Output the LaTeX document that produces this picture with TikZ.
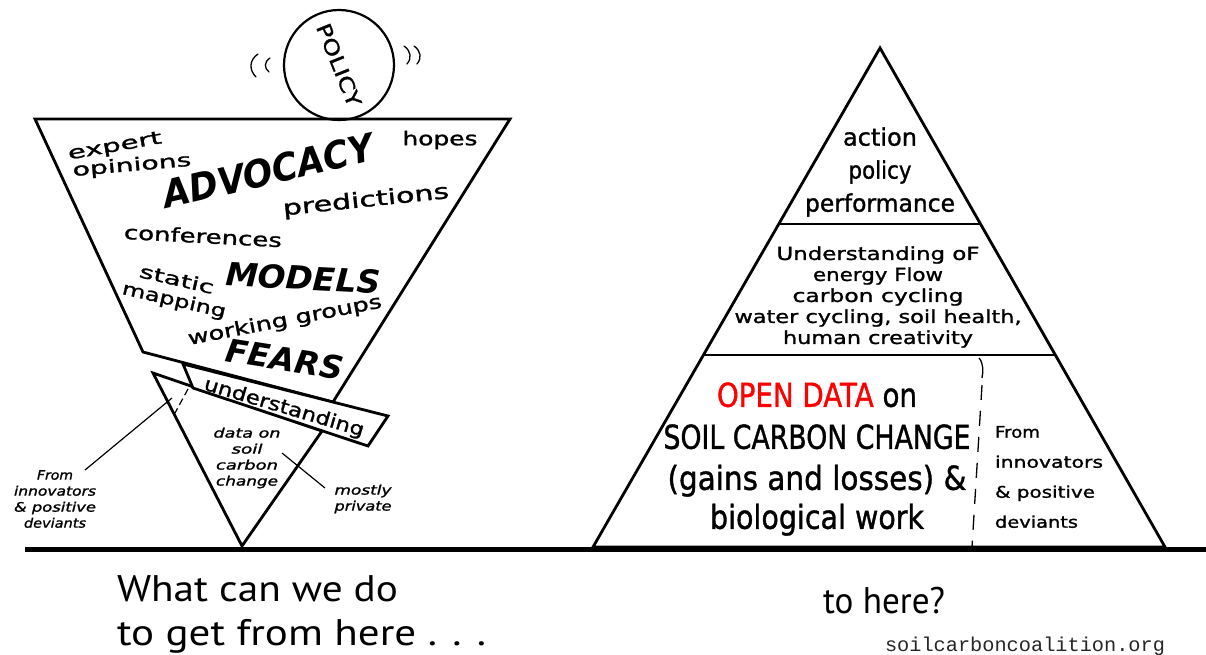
\documentclass[tikz,border=0pt]{standalone}
\usepackage{fontspec}
\usepackage{graphicx}
\setmainfont{DejaVu Sans}
\newfontfamily\comicfont[FakeBold=1.2]{DejaVu Sans}
\newfontfamily\heavyfont{DejaVu Sans}
\newfontfamily\plainsans{PT Sans}
\newfontfamily\webfont{Liberation Mono}
\usetikzlibrary{calc}
% font size in pt (one pt equals one unit of the picture)
\newcommand{\setfs}[1]{\fontsize{#1}{#1}\selectfont}
% set a word to a given width, keeping its natural height
\newcommand{\fw}[2]{\resizebox{#1pt}{\height}{#2}}
\begin{document}
\begin{tikzpicture}[x=1pt,y=-1pt,
  outline/.style={line width=2.8pt, line join=miter},
  word/.style={inner sep=0pt, outer sep=0pt},
  bigword/.style={inner sep=0pt, outer sep=0pt},
  leader/.style={line width=1.2pt},
  wobble/.style={line width=1.3pt, line cap=round},
  ground/.style={line width=5.5pt}]
\useasboundingbox (0,0) rectangle (1206,654);

% ---------- ground ----------
\coordinate (g1) at (25,549.5);
\coordinate (g2) at (1206,549.5);
\draw[ground] (g1) -- (g2);

% ---------- funnel (upside-down pyramid) ----------
\coordinate (f1) at (35,119);
\coordinate (f2) at (510,119);
\coordinate (f3) at (333,402);
\coordinate (f4) at (143,352);
\draw[outline] (f1) -- (f2) -- (f3) -- (f4) -- cycle;

% small triangle standing on its point
\coordinate (t1) at (153,373);
\coordinate (t2) at (242,546);
\coordinate (t3) at (322,431);
\draw[outline] (t1) -- (t2) -- (t3) -- cycle;

% the "understanding" plank
\coordinate (p1) at (183,364);
\coordinate (p2) at (388,416);
\coordinate (p3) at (368,446);
\coordinate (p4) at (193,388);
\draw[outline, fill=white] (p1) -- (p2) -- (p3) -- (p4) -- cycle;

% dashed split inside the small triangle
\coordinate (d1) at (188,389);
\coordinate (d2) at (175,413);
\draw[line width=1.2pt, dash pattern=on 7pt off 4pt] (d1) -- (d2);

% ---------- POLICY ball ----------
\node[circle, draw, line width=2.2pt, minimum size=110pt, inner sep=0pt] (ball) at (339,65) {};
\node[word, rotate=-68, font={\comicfont\setfs{20}}] (policy) at (339,65) {\fw{88}{POLICY}};
\draw[wobble] (258,54) .. controls (249,60) and (249,70) .. (256,77);
\draw[wobble] (270,58) .. controls (264,62) and (264,68) .. (269,72);
\draw[wobble] (404,46) .. controls (411,51) and (412,58) .. (407,64);
\draw[wobble] (414,46) .. controls (421,51) and (422,58) .. (417,64);

% ---------- words in the funnel ----------
\node[word, rotate=10, font={\comicfont\setfs{18}}] (expert) at (115,147) {\fw{95}{expert}};
\node[word, rotate=5, font={\comicfont\setfs{18}}] (opinions) at (132,166) {\fw{119}{opinions}};
\node[bigword, rotate=13, font={\heavyfont\bfseries\itshape\setfs{38}}] (advocacy) at (268,171) {\fw{215}{ADVOCACY}};
\node[word, font={\comicfont\setfs{19}}] (hopes) at (440,140) {\fw{75}{hopes}};
\node[word, rotate=6, font={\comicfont\setfs{21}}] (predictions) at (366,201) {\fw{167}{predictions}};
\node[word, rotate=-3, font={\comicfont\setfs{19}}] (conferences) at (203,236) {\fw{158}{conferences}};
\node[word, rotate=-13, font={\comicfont\setfs{18}}] (static) at (177,279) {\fw{76}{static}};
\node[word, rotate=-13, font={\comicfont\setfs{18}}] (mapping) at (174,301) {\fw{106}{mapping}};
\node[bigword, rotate=-3, font={\heavyfont\bfseries\itshape\setfs{32}}] (models) at (303,278) {\fw{155}{MODELS}};
\node[word, rotate=11, font={\comicfont\setfs{19}}] (groups) at (285,321) {\fw{197}{working groups}};
\node[bigword, rotate=-9, font={\heavyfont\bfseries\itshape\setfs{32}}] (fears) at (285,359) {\fw{118}{FEARS}};
\node[word, rotate=-16.5, font={\comicfont\setfs{19}}] (understanding) at (284,408) {\fw{166}{understanding}};

% ---------- small triangle labels ----------
\node[word, font={\comicfont\itshape\setfs{13}}, align=center] (data) at (247,458)
  {\fw{67}{data on}\\[3pt]\fw{31}{soil}\\[3pt]\fw{62}{carbon}\\[3pt]\fw{62}{change}};
\node[word, font={\comicfont\itshape\setfs{13}}, align=center] (private) at (363,499)
  {\fw{57}{mostly}\\[3pt]\fw{57}{private}};
\node[word, font={\comicfont\itshape\setfs{13}}, align=center] (fromleft) at (55,499)
  {\fw{36}{From}\\[3pt]\fw{82}{innovators}\\[3pt]\fw{82}{\& positive}\\[3pt]\fw{62}{deviants}};

\coordinate (l1a) at (172,398);
\coordinate (l1b) at (85,470);
\draw[leader] (l1a) -- (l1b);
\coordinate (l2a) at (282,453);
\coordinate (l2b) at (325,488);
\draw[leader] (l2a) -- (l2b);

% ---------- the pyramid ----------
\coordinate (r1) at (880,48);
\coordinate (r2) at (1165,547);
\coordinate (r3) at (593,547);
\draw[outline] (r1) -- (r2) -- (r3) -- cycle;
\coordinate (s1l) at (779,224);
\coordinate (s1r) at (980,224);
\draw[outline] (s1l) -- (s1r);
\coordinate (s2l) at (703,355);
\coordinate (s2r) at (1056,355);
\draw[outline] (s2l) -- (s2r);
\coordinate (v1) at (979,358);
\coordinate (v2) at (972,547);
\draw[line width=1.3pt] (v1) .. controls (984,364) and (983,372) .. (982,378);
\draw[line width=1.3pt, dash pattern=on 15pt off 11pt] (982,385) -- (v2);

\node[word, font={\comicfont\setfs{24}}, align=center] (top) at (880,172)
  {\fw{74}{action}\\[9pt]\fw{63}{policy}\\[9pt]\fw{150}{performance}};
\node[word, font={\comicfont\setfs{18}}, align=center] (middle) at (878,297)
  {\fw{203}{Understanding oF}\\[3pt]\fw{130}{energy Flow}\\[3pt]\fw{171}{carbon cycling}\\[3pt]\fw{287}{water cycling, soil health,}\\[3pt]\fw{190}{human creativity}};
\node[word, font={\comicfont\setfs{33}}, align=center] (opendata) at (817,459)
  {\fw{200}{\textcolor{red}{OPEN DATA} on}\\[9pt]\fw{307}{SOIL CARBON CHANGE}\\[8pt]\fw{299}{(gains and losses) \&}\\[6pt]\fw{214}{biological work}};
\node[word, font={\comicfont\setfs{16}}, align=left, anchor=west] (fromright) at (995,477)
  {\fw{45}{From}\\[14pt]\fw{108}{innovators}\\[14pt]\fw{100}{\& positive}\\[14pt]\fw{83}{deviants}};

% ---------- captions ----------
\node[word, anchor=base west, font={\plainsans\setfs{37}}] (q1) at (117,601) {\fw{281}{What can we do}};
\node[word, anchor=base west, font={\plainsans\setfs{37}}] (q2) at (117,645) {\fw{369}{to get from here . . .}};
\node[word, anchor=base west, font={\plainsans\setfs{37}}] (q3) at (823,613) {\fw{122}{to here?}};
\node[word, anchor=base west, font={\webfont\setfs{20}}, text=black!85] (site) at (885,651) {\fw{280}{soilcarboncoalition.org}};
\end{tikzpicture}
\end{document}
